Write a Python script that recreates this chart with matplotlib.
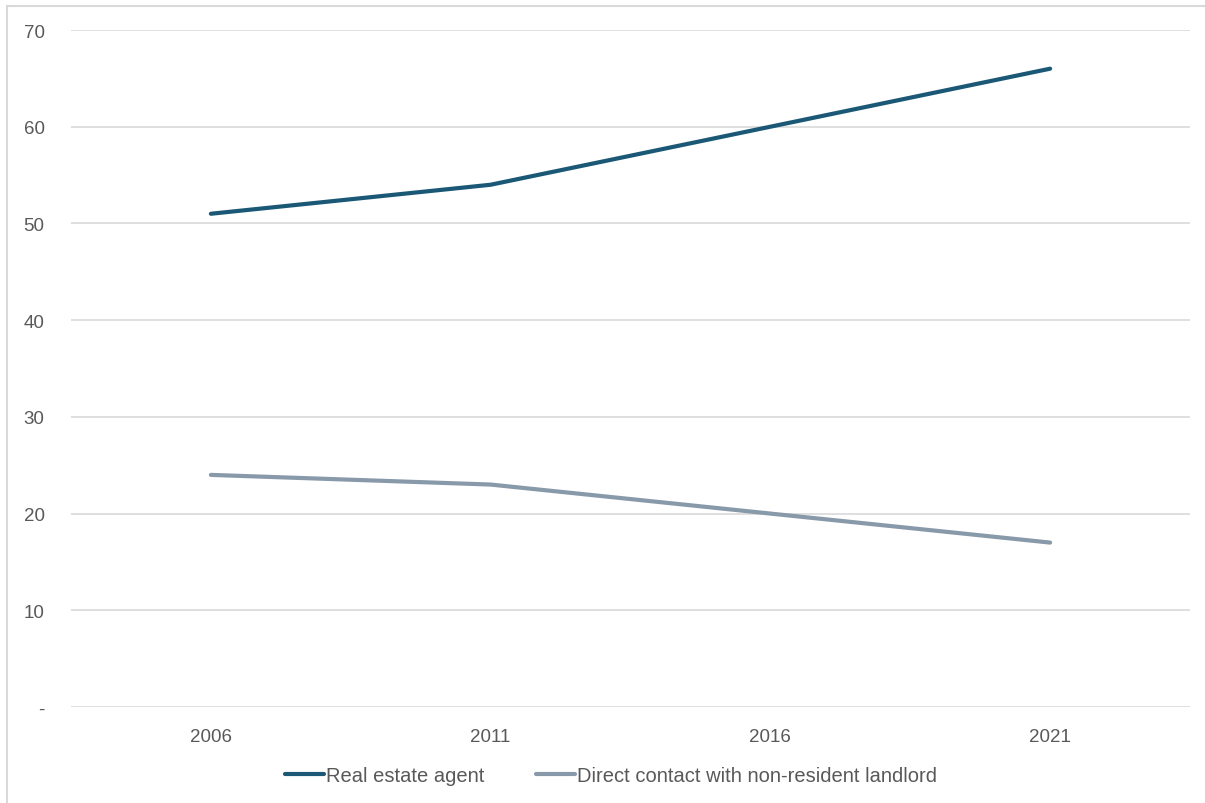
import matplotlib
matplotlib.use("Agg")
from matplotlib import pyplot as plt
from matplotlib.lines import Line2D

years = ["2006", "2011", "2016", "2021"]
real_estate_agent = [51, 54, 60, 66]
direct_contact = [24, 23, 20, 17]
y_ticks = [0, 10, 20, 30, 40, 50, 60, 70]
y_labels = ["-", "10", "20", "30", "40", "50", "60", "70"]

AGENT_COLOR = "#1a5876"
DIRECT_COLOR = "#8899aa"
TEXT_COLOR = "#595959"
GRID_COLOR = "#d9d9d9"

plt.rcParams['font.family'] = ['Liberation Sans', 'DejaVu Sans']

fig = plt.figure(figsize=(12.05, 8.04), dpi=100)
ax = fig.add_axes([71 / 1205, 1 - 708 / 804, 1119 / 1205, 677 / 804])

x = range(len(years))
ax.plot(x, real_estate_agent, color=AGENT_COLOR, lw=3, solid_capstyle='round',
        label="Real estate agent")
ax.plot(x, direct_contact, color=DIRECT_COLOR, lw=3, solid_capstyle='round',
        label="Direct contact with non-resident landlord")

ax.set_xlim(-0.5, len(years) - 0.5)
ax.set_ylim(0, 70)
ax.set_xticks(list(x))
ax.set_xticklabels(years)
ax.set_yticks(y_ticks)
ax.set_yticklabels(y_labels)
ax.tick_params(length=0, labelsize=13.5, colors=TEXT_COLOR)
ax.tick_params(axis='y', pad=19)
ax.tick_params(axis='x', pad=15)
ax.grid(axis='y', color=GRID_COLOR, lw=1.2)
ax.set_axisbelow(True)
for s in ax.spines.values():
    s.set_visible(False)

handles = [Line2D([], [], color=AGENT_COLOR, lw=3, solid_capstyle='round'),
           Line2D([], [], color=DIRECT_COLOR, lw=3, solid_capstyle='round')]
fig.legend(handles, ["Real estate agent", "Direct contact with non-resident landlord"],
           loc='center', bbox_to_anchor=(611 / 1205, 1 - 777 / 804), ncol=2,
           frameon=False, fontsize=14.5, labelcolor=TEXT_COLOR,
           handlelength=1.9, handletextpad=0.1, columnspacing=2.6)

# light frame on the left and top, as in the source screenshot
fig.add_artist(Line2D([7 / 1205, 7 / 1205], [0, 1 - 7 / 804], color=GRID_COLOR, lw=1.5))
fig.add_artist(Line2D([7 / 1205, 1], [1 - 7 / 804, 1 - 7 / 804], color=GRID_COLOR, lw=1.5))

fig.savefig("out.png", dpi=100)
